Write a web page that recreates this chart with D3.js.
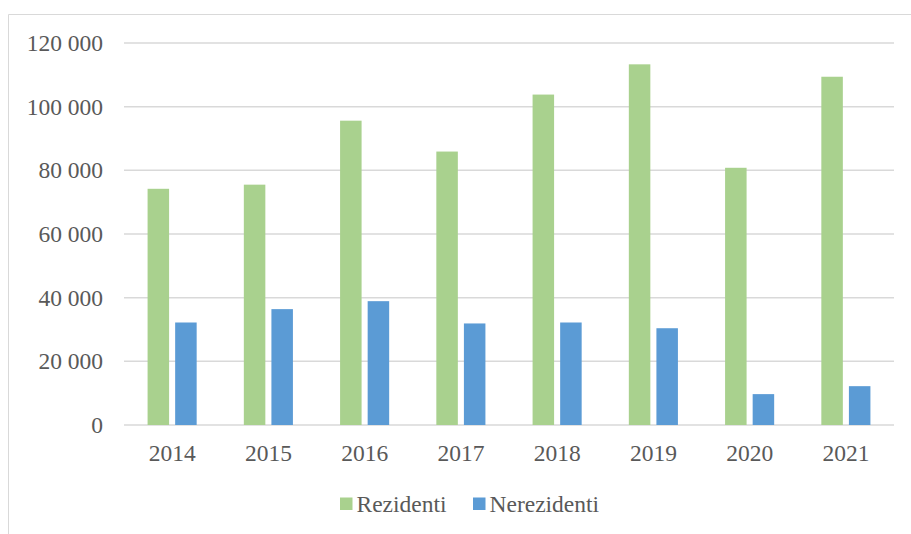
<!DOCTYPE html>
<html>
<head>
<meta charset="utf-8">
<script src="https://cdnjs.cloudflare.com/ajax/libs/d3/7.8.5/d3.min.js"></script>
<style>
  body { margin: 0; background: #fff; }
  svg { display: block; }
  text { font-family: "Liberation Serif", "Times New Roman", serif; fill: #595959; }
</style>
</head>
<body>
<div id="chart"></div>
<script>
// data
var years = ["2014", "2015", "2016", "2017", "2018", "2019", "2020", "2021"];
var rezidenti = [74200, 75500, 95600, 85900, 103800, 113300, 80800, 109400];
var nerezidenti = [32200, 36400, 38900, 31900, 32200, 30400, 9700, 12200];
var seriesNames = ["Rezidenti", "Nerezidenti"];
var yTicks = [0, 20000, 40000, 60000, 80000, 100000, 120000];

var width = 911, height = 534;
var margin = {left: 124, right: 17, top: 43, bottom: 109};
var colors = {"Rezidenti": "#A9D18E", "Nerezidenti": "#5B9BD5"};
var fontSize = "23.5px";

var rows = years.map(function(y, i) {
  return {year: y, values: [{key: "Rezidenti", value: rezidenti[i]}, {key: "Nerezidenti", value: nerezidenti[i]}]};
});

var svg = d3.select("#chart").append("svg").attr("width", width).attr("height", height);

// outer chart border (top + left only visible)
svg.append("path")
   .attr("d", "M8.5," + (height) + "V14.5H" + width)
   .attr("fill", "none")
   .attr("stroke", "#D9D9D9")
   .attr("stroke-width", 1);

var plotW = width - margin.left - margin.right;
var plotH = height - margin.top - margin.bottom;

var y = d3.scaleLinear().domain([0, 120000]).range([plotH, 0]);
var x0 = d3.scaleBand().domain(years).range([0, plotW]).paddingInner(0.49).paddingOuter(0.245);
var x1 = d3.scaleBand().domain(seriesNames).range([0, x0.bandwidth()]).paddingInner(0.22);

var g = svg.append("g").attr("transform", "translate(" + margin.left + "," + margin.top + ")");

// gridlines
g.selectAll(".grid")
 .data(yTicks)
 .enter().append("line")
 .attr("class", "grid")
 .attr("x1", 0).attr("x2", plotW)
 .attr("y1", function(d) { return y(d); })
 .attr("y2", function(d) { return y(d); })
 .attr("stroke", "#D9D9D9")
 .attr("stroke-width", 1.5);

// y axis labels
var yAxis = d3.axisLeft(y).tickValues(yTicks).tickSize(0).tickPadding(21)
  .tickFormat(function(d) { return d3.format(",")(d).replace(/,/g, " "); });
g.append("g").attr("class", "axis y").call(yAxis)
 .call(function(a) {
   a.select(".domain").remove();
   a.selectAll("text").style("font-size", fontSize).attr("fill", "#595959").attr("font-family", "Liberation Serif");
 });

// bars
var groups = g.selectAll(".year")
  .data(rows)
  .enter().append("g")
  .attr("class", "year")
  .attr("transform", function(d) { return "translate(" + x0(d.year) + ",0)"; });

groups.selectAll("rect")
  .data(function(d) { return d.values; })
  .enter().append("rect")
  .attr("x", function(d) { return x1(d.key); })
  .attr("y", function(d) { return y(d.value); })
  .attr("width", x1.bandwidth())
  .attr("height", function(d) { return plotH - y(d.value); })
  .attr("fill", function(d) { return colors[d.key]; });

// x axis labels
var xAxis = d3.axisBottom(x0).tickSize(0).tickPadding(19);
g.append("g").attr("class", "axis x")
 .attr("transform", "translate(0," + plotH + ")")
 .call(xAxis)
 .call(function(a) {
   a.select(".domain").remove();
   a.selectAll("text").style("font-size", fontSize).attr("fill", "#595959").attr("font-family", "Liberation Serif");
 });

// legend
var legend = svg.append("g").attr("class", "legend");
var legendX = [340, 473];
seriesNames.forEach(function(name, i) {
  legend.append("rect")
    .attr("x", legendX[i]).attr("y", 497.5)
    .attr("width", 12.5).attr("height", 12.5)
    .attr("fill", colors[name]);
  legend.append("text")
    .attr("x", legendX[i] + 16.5).attr("y", 512)
    .style("font-size", fontSize)
    .text(name);
});
</script>
</body>
</html>
